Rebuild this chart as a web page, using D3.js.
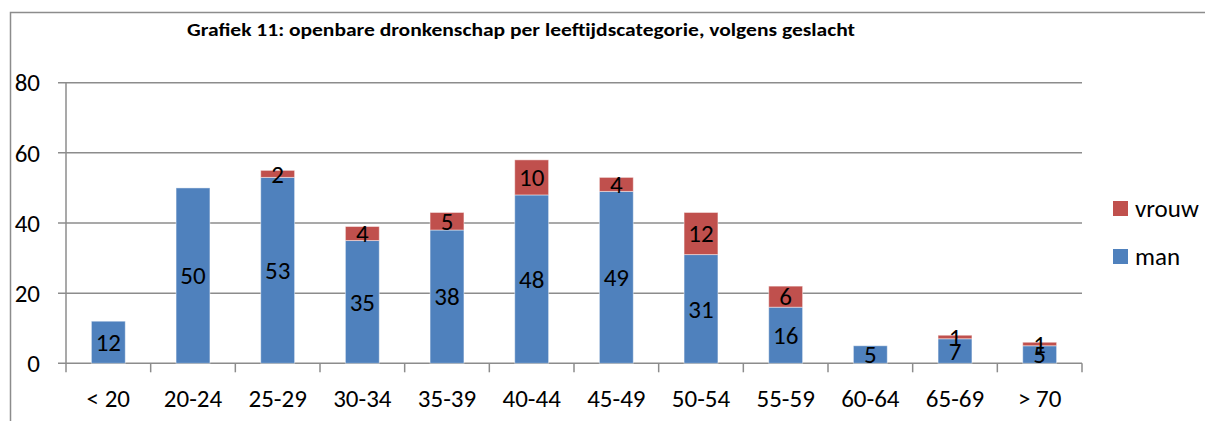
<!DOCTYPE html>
<html>
<head>
<meta charset="utf-8">
<script src="https://cdn.jsdelivr.net/npm/d3@7"></script>
<style>
  body { margin: 0; background: white; }
  svg { display: block; font-family: Carlito, Lato, sans-serif; }
</style>
</head>
<body>
<svg id="chart" width="1205" height="421"></svg>
<script>
const categories = ["< 20", "20-24", "25-29", "30-34", "35-39", "40-44", "45-49", "50-54", "55-59", "60-64", "65-69", "> 70"];
const man = [12, 50, 53, 35, 38, 48, 49, 31, 16, 5, 7, 5];
const vrouw = [0, 0, 2, 4, 5, 10, 4, 12, 6, 0, 1, 1];
const yTicks = [0, 20, 40, 60, 80];
const seriesNames = ["man", "vrouw"];
const colors = { man: "#4f81bd", vrouw: "#c0504d" };

const svg = d3.select("#chart");
const plot = { left: 66, right: 1082, top: 82.7, bottom: 363.3 };

const x = d3.scaleBand()
  .domain(categories)
  .range([plot.left, plot.right])
  .paddingInner(0.6)
  .paddingOuter(0.3);

const y = d3.scaleLinear().domain([0, 80]).range([plot.bottom, plot.top]);

// outer frame (left + top only visible)
svg.append("path")
  .attr("d", `M10.5,421 V12.5 H1205`)
  .attr("fill", "none")
  .attr("stroke", "#8c8c8c")
  .attr("stroke-width", 1.5);

// title
svg.append("text")
  .attr("x", 187)
  .attr("y", 36)
  .attr("font-weight", "bold")
  .attr("font-size", 17.5)
  .attr("textLength", 668)
  .attr("lengthAdjust", "spacingAndGlyphs")
  .text("Grafiek 11: openbare dronkenschap per leeftijdscategorie, volgens geslacht");

// gridlines with tick stubs
svg.append("g")
  .selectAll("line")
  .data(yTicks)
  .join("line")
  .attr("x1", plot.left - 8)
  .attr("x2", plot.right)
  .attr("y1", (d) => y(d))
  .attr("y2", (d) => y(d))
  .attr("stroke", "#8c8c8c")
  .attr("stroke-width", 1.5);

// y axis line
svg.append("line")
  .attr("x1", plot.left).attr("x2", plot.left)
  .attr("y1", plot.top).attr("y2", plot.bottom)
  .attr("stroke", "#8c8c8c")
  .attr("stroke-width", 1.5);

// y tick labels
svg.append("g")
  .selectAll("text")
  .data(yTicks)
  .join("text")
  .attr("x", 40)
  .attr("y", (d) => y(d))
  .attr("dy", "0.35em")
  .attr("text-anchor", "end")
  .attr("font-size", 25)
  .text((d) => d);

// x tick marks at category boundaries
const step = x.step();
svg.append("g")
  .selectAll("line")
  .data(d3.range(categories.length + 1))
  .join("line")
  .attr("x1", (i) => plot.left + i * step)
  .attr("x2", (i) => plot.left + i * step)
  .attr("y1", plot.bottom)
  .attr("y2", plot.bottom + 9)
  .attr("stroke", "#8c8c8c")
  .attr("stroke-width", 1.5);

// x labels
svg.append("g")
  .selectAll("text")
  .data(categories)
  .join("text")
  .attr("x", (d) => x(d) + x.bandwidth() / 2)
  .attr("y", 398)
  .attr("dy", "0.35em")
  .attr("text-anchor", "middle")
  .attr("font-size", 25)
  .text((d) => d);

// stacked bars
const rows = categories.map((c, i) => ({ cat: c, man: man[i], vrouw: vrouw[i] }));
const stacked = d3.stack().keys(seriesNames)(rows);

const layers = svg.append("g")
  .selectAll("g")
  .data(stacked)
  .join("g")
  .attr("fill", (s) => colors[s.key]);

layers.selectAll("rect")
  .data((s) => s.filter((d) => d[1] > d[0]))
  .join("rect")
  .attr("x", (d) => x(d.data.cat))
  .attr("y", (d) => y(d[1]))
  .attr("width", x.bandwidth())
  .attr("height", (d) => y(d[0]) - y(d[1]))
  .attr("stroke", "rgba(255,255,255,0.45)")
  .attr("stroke-width", 1);

// value labels
layers.selectAll("text")
  .data((s) => s.filter((d) => d[1] > d[0]))
  .join("text")
  .attr("x", (d) => x(d.data.cat) + x.bandwidth() / 2)
  .attr("y", (d) => (y(d[0]) + y(d[1])) / 2)
  .attr("dy", "0.35em")
  .attr("text-anchor", "middle")
  .attr("font-size", 25)
  .attr("fill", "#000")
  .text((d) => d[1] - d[0]);

// legend
const legend = svg.append("g")
  .selectAll("g")
  .data(["vrouw", "man"])
  .join("g")
  .attr("transform", (d, i) => `translate(1113, ${201 + i * 48})`);

legend.append("rect")
  .attr("width", 15)
  .attr("height", 15)
  .attr("fill", (d) => colors[d]);

legend.append("text")
  .attr("x", 22)
  .attr("y", 7.5)
  .attr("dy", "0.35em")
  .attr("font-size", 25)
  .text((d) => d);
</script>
</body>
</html>
